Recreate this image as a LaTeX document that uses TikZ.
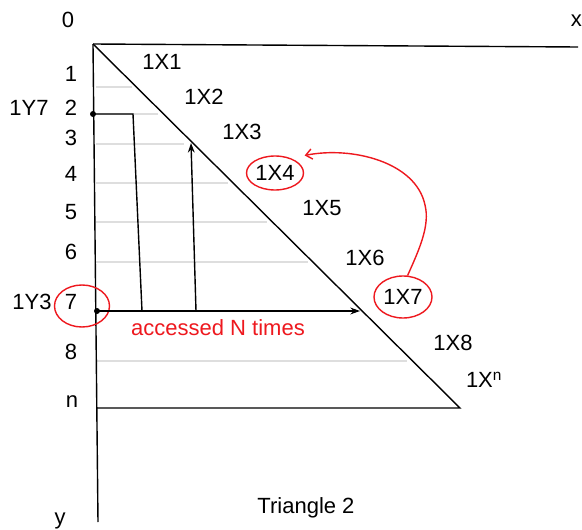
\documentclass[tikz,border=0pt]{standalone}
\usepackage{fontspec}
\setmainfont{Liberation Sans}
\usetikzlibrary{arrows.meta,positioning,shapes.geometric}
\definecolor{gridGray}{RGB}{222,222,222}
\definecolor{markRed}{RGB}{238,24,30}

\begin{document}
\begin{tikzpicture}[
  x=1pt, y=-1pt,
  lbl/.style={font=\fontsize{22}{26}\selectfont, inner sep=0pt},
  redlbl/.style={lbl, text=markRed},
  axis/.style={line width=1.4pt},
  gridline/.style={draw=gridGray, line width=1.5pt},
  arrow/.style={-{Stealth[length=3.4mm, width=2.4mm]}, line width=1.4pt},
  redarrow/.style={-{Straight Barb[length=2.2mm, width=3.6mm]}, draw=markRed, line width=1.4pt},
  ring/.style={ellipse, draw=markRed, line width=1.4pt, inner sep=0pt},
  dot/.style={circle, fill, inner sep=0pt, minimum size=6pt}
]
  \fill[white] (0,0) rectangle (582,530);
  \useasboundingbox (0,0) rectangle (582,530);

  \coordinate (o) at (93,44);
  \coordinate (xend) at (578,47);
  \coordinate (yend) at (98,522);
  \coordinate (tri) at (460,408);
  \coordinate (nrow) at (97,408);

  \foreach \y/\e in {87/132, 114/158, 144/184, 183/228, 222/267, 262/308, 361/407}
    \draw[gridline] (96,\y) -- (\e,\y);

  \draw[axis] (o) -- (xend);
  \draw[axis] (o) -- (yend);
  \draw[axis] (o) -- (tri) -- (nrow);

  \node[lbl] (zero) at (68,20) {0};
  \node[lbl, anchor=east] (xlbl) at (582,21) {x};
  \node[lbl] (ylbl) at (60,521) {y};
  \foreach \n/\y in {1/74, 2/108, 3/138, 4/174, 5/212, 6/252, 7/302, 8/352}
    \node[lbl] (row\n) at (71,\y) {\n};
  \node[lbl] (rown) at (72,402) {n};
  \node[lbl] (y7) at (29,108) {1Y7};
  \node[lbl] (y3) at (32,302) {1Y3};

  \node[lbl] (x1) at (162,62) {1X1};
  \node[lbl] (x2) at (204,97) {1X2};
  \node[lbl] (x3) at (242,132) {1X3};
  \node[lbl, ring, minimum width=57pt, minimum height=34pt] (x4) at (275,173) {1X4};
  \node[lbl] (x5) at (322,208) {1X5};
  \node[lbl] (x6) at (365,258) {1X6};
  \node[lbl, ring, minimum width=58pt, minimum height=42pt] (x7) at (403,297) {1X7};
  \node[lbl] (x8) at (453,343) {1X8};
  \node[lbl] (xn) at (484,380) {1X\textsuperscript{n}};
  \node[ring, minimum width=55pt, minimum height=42pt] (r7) at (82,306) {};

  \node[dot] (d2) at (93,114) {};
  \node[dot] (d7) at (97,311) {};
  \coordinate (bendA) at (133,114);
  \coordinate (footA) at (142,311);
  \coordinate (footB) at (196,311);
  \coordinate (hitB) at (191,143);
  \coordinate (hitC) at (360,311);

  \draw[axis] (d2.center) -- (bendA) -- (footA);
  \draw[arrow] (footB) -- (hitB);
  \draw[arrow] (d7.center) -- (hitC);

  \node[redlbl] (times) at (218,328) {accessed N times};

  \draw[redarrow] (x7.78) .. controls (420,248) and (430,225) .. (425,205)
    .. controls (416,162) and (352,146) .. ([xshift=9pt, yshift=5pt]x4.north east);

  \node[lbl, anchor=base] (title) at (306,513) {Triangle 2};
\end{tikzpicture}
\end{document}
